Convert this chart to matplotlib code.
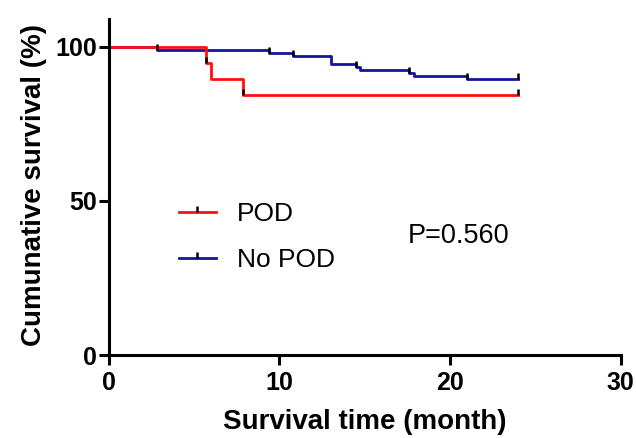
import matplotlib
matplotlib.use('Agg')
import matplotlib.pyplot as plt
from matplotlib.lines import Line2D

plt.rcParams['font.family'] = ['Liberation Sans', 'DejaVu Sans']

# Kaplan-Meier steps (time in months, survival in %)
pod_t = [0, 5.7, 6.0, 7.85, 24.0]
pod_s = [100, 94.7, 89.4, 84.2, 84.2]
pod_cens_t = [5.7, 7.85, 24.0]
pod_cens_s = [94.7, 84.2, 84.2]

nopod_t = [0, 2.8, 9.4, 10.8, 13.0, 14.5, 14.7, 17.6, 17.9, 21.0, 24.0]
nopod_s = [100, 99.0, 98.0, 97.1, 94.4, 93.4, 92.4, 91.5, 90.5, 89.6, 89.6]
nopod_cens_t = [2.8, 9.4, 10.8, 14.5, 17.6, 21.0, 24.0]
nopod_cens_s = [99.0, 98.0, 97.1, 93.4, 91.5, 89.6, 89.6]

labels = ['POD', 'No POD']
colors = ['#ff1010', '#1414a0']
p_text = 'P=0.560'

xticks = [0, 10, 20, 30]
yticks = [0, 50, 100]

tick_up = [(0, 0), (0, 1)]

fig = plt.figure(figsize=(6.36, 4.38), dpi=100)
ax = fig.add_axes([0.171, 0.189, 0.805, 0.775])

ax.step(nopod_t, nopod_s, where='post', color=colors[1], lw=2.0)
ax.step(pod_t, pod_s, where='post', color=colors[0], lw=2.0)
ax.plot(nopod_cens_t, nopod_cens_s, ls='none', marker=tick_up, ms=9,
        mec='black', mew=1.8)
ax.plot(pod_cens_t, pod_cens_s, ls='none', marker=tick_up, ms=9,
        mec='black', mew=1.8)

ax.set_xlim(0, 30)
ax.set_ylim(0, 110)
ax.set_xticks(xticks)
ax.set_yticks(yticks)
for s in ['top', 'right']:
    ax.spines[s].set_visible(False)
for s in ['left', 'bottom']:
    ax.spines[s].set_linewidth(2.2)
ax.spines['left'].set_bounds(0, 109)
ax.tick_params(width=2.2, length=7.2, direction='out', labelsize=18)
ax.tick_params(axis='x', pad=4)
ax.tick_params(axis='y', pad=1.5)
for lab in ax.get_xticklabels() + ax.get_yticklabels():
    lab.set_fontweight('bold')

ax.set_xlabel('Survival time (month)', fontsize=20, fontweight='bold', labelpad=10)
ax.set_ylabel('Cumunative survival (%)', fontsize=20, fontweight='bold', labelpad=6)

handles = [Line2D([], [], color=c, lw=2.0, marker=tick_up, ms=9,
                  mec='black', mew=1.8) for c in colors]
ax.legend(handles, labels, loc='center left', bbox_to_anchor=(0.137, 0.347),
          frameon=False, fontsize=19, handlelength=1.4, handletextpad=0.8,
          labelspacing=0.83, numpoints=1, borderpad=0, borderaxespad=0)

ax.text(17.5, 38.6, p_text, fontsize=19.5, ha='left', va='center')

fig.savefig('out.png', dpi=100)
